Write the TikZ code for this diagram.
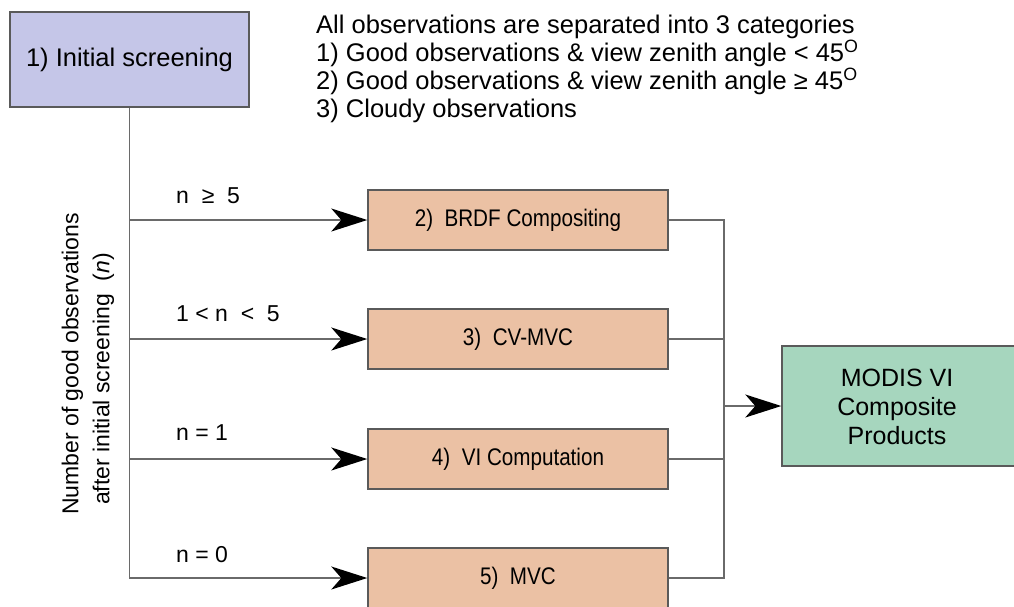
\documentclass[tikz,border=0pt]{standalone}
\usepackage{fontspec}
\setmainfont{Liberation Sans}
\newfontfamily\narrowsans{Liberation Sans}[FakeStretch=0.86]
\usetikzlibrary{arrows.meta,positioning}
\definecolor{lav}{HTML}{C5C6E8}
\definecolor{peach}{HTML}{EBC1A4}
\definecolor{mint}{HTML}{A6D6BE}
\definecolor{edge}{HTML}{5A5A5A}
\definecolor{wire}{HTML}{6A6A6A}
\begin{document}
\begin{tikzpicture}[x=1pt,y=-1pt,
  wirestyle/.style={draw=wire,line width=1.6pt},
  arr/.style={wirestyle,-{Stealth[length=36pt,width=23pt,inset=10pt,color=black]}},
  stepbox/.style={draw=edge,line width=1.4pt,fill=peach,minimum width=300pt,
    minimum height=60pt,inner sep=0pt,font=\narrowsans\fontsize{24}{28}\selectfont},
  cond/.style={anchor=base west,inner sep=0pt,font=\fontsize{23}{26}\selectfont},
  note/.style={inner sep=0pt,align=left}]
\useasboundingbox (0,0) rectangle (1014,606);
\clip (0,0) rectangle (1014,606);

% source box
\node[draw=edge,line width=1.4pt,fill=lav,minimum width=239pt,minimum height=95pt,
  inner sep=0pt,font=\fontsize{25.5}{28}\selectfont] (init) at (129.5,59.5) {1) Initial screening};

% category legend
\node[note,anchor=north west,font=\fontsize{25.5}{28}\selectfont] (legend) at (316,15)
  {All observations are separated into 3 categories\\
   1) Good observations \& view zenith angle < 45\textsuperscript{O}\\
   2) Good observations \& view zenith angle ≥ 45\textsuperscript{O}\\
   3) Cloudy observations};

% compositing methods
\node[stepbox] (b2) at (518,220) {2)~~BRDF Compositing};
\node[stepbox] (b3) at (518,339) {3)~~CV-MVC};
\node[stepbox] (b4) at (518,459) {4)~~VI Computation};
\node[stepbox] (b5) at (518,578) {5)~~MVC};

% output product
\node[draw=edge,line width=1.4pt,fill=mint,minimum width=240pt,minimum height=120pt,
  inner sep=0pt] (out) at (902,406) {};
\node[inner sep=0pt,align=center,font=\fontsize{25}{29}\selectfont] (outtxt) at (897,407)
  {MODIS VI\\Composite\\Products};

% trunk and branches
\draw[arr] (init.south) |- (b5.west);
\draw[arr] (init.south |- b2.west) -- (b2.west);
\draw[arr] (init.south |- b3.west) -- (b3.west);
\draw[arr] (init.south |- b4.west) -- (b4.west);

% branch conditions
\node[cond] (c2) at (176,203) {n\ \ ≥\ \ 5};
\node[cond] (c3) at (176,321) {1 < n\ \ <\ \ 5};
\node[cond] (c4) at (176,440) {n = 1};
\node[cond] (c5) at (176,562) {n = 0};

% axis label along the trunk
\node[note,rotate=90,font=\fontsize{23}{31}\selectfont] (axis) at (88,364)
  {Number of good observations\\\hspace*{10pt}after initial screening\ \ (\textit{n})};

% merge into the product
\coordinate (m) at (724,406);
\draw[wirestyle] (b2.east) -| (m);
\draw[wirestyle] (b5.east) -| (m);
\draw[wirestyle] (b3.east) -- (b3.east -| m);
\draw[wirestyle] (b4.east) -- (b4.east -| m);
\draw[arr] (m) -- (out.west);
\end{tikzpicture}
\end{document}
